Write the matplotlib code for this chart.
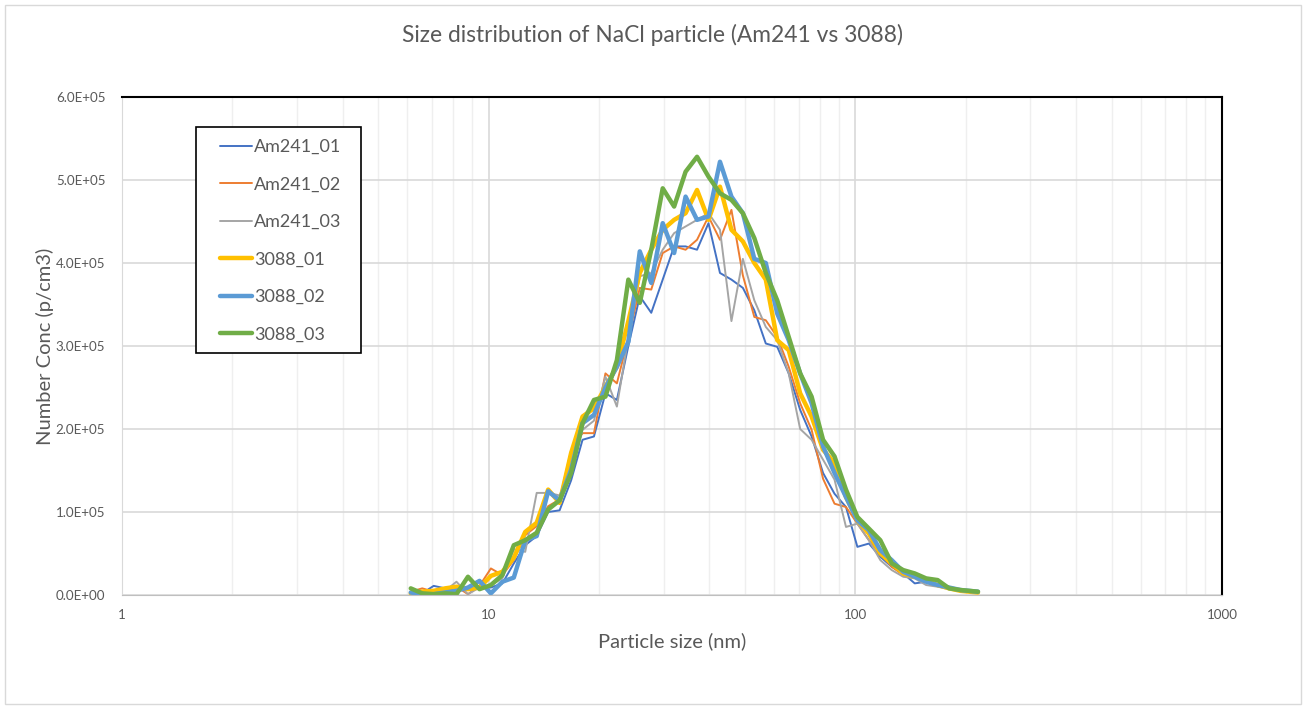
import numpy as np
import matplotlib
matplotlib.use("Agg")
import matplotlib.pyplot as plt
from matplotlib.ticker import FuncFormatter, LogLocator, FixedLocator
from matplotlib.patches import Rectangle

plt.rcParams['font.family'] = ['Lato', 'DejaVu Sans']

# particle diameter (nm)
size_nm = [6.13, 6.59, 7.08, 7.61, 8.17, 8.78, 9.44, 10.14, 10.90, 11.71,
           12.58, 13.52, 14.53, 15.61, 16.78, 18.03, 19.37, 20.82, 22.37, 24.04,
           25.83, 27.76, 29.83, 32.05, 34.44, 37.01, 39.77, 42.74, 45.93, 49.35,
           53.03, 56.99, 61.24, 65.81, 70.72, 75.99, 81.66, 87.75, 94.30, 101.3,
           108.9, 117.0, 125.7, 135.1, 145.2, 156.0, 167.7, 180.2, 193.6, 216.0]

# number concentration in thousands p/cm3
am241_01 = [3, 2, 11, 8, 6, 6, 9, 9, 14, 38,
            60, 71, 100, 102, 138, 187, 191, 243, 235, 300,
            360, 340, 380, 420, 420, 416, 448, 388, 380, 370,
            343, 303, 299, 267, 223, 191, 147, 122, 106, 58,
            62, 46, 34, 26, 14, 16, 12, 8, 6, 4]
am241_02 = [4, 8, 4, 5, 10, 1, 11, 32, 24, 42,
            72, 83, 107, 115, 174, 195, 195, 267, 255, 310,
            370, 368, 412, 420, 416, 428, 456, 428, 464, 385,
            335, 331, 311, 275, 231, 199, 140, 110, 106, 86,
            66, 50, 34, 24, 22, 16, 12, 8, 6, 3]
am241_03 = [3, 4, 3, 5, 16, 1, 9, 12, 20, 55,
            52, 123, 123, 120, 150, 199, 210, 263, 227, 310,
            384, 388, 416, 436, 444, 452, 460, 440, 330, 405,
            355, 323, 307, 267, 200, 187, 163, 139, 82, 86,
            66, 42, 30, 22, 20, 12, 10, 7, 5, 3]
s3088_01 = [2, 4, 5, 8, 10, 7, 9, 23, 28, 45,
            76, 87, 127, 111, 171, 215, 225, 251, 275, 330,
            388, 416, 440, 452, 460, 488, 452, 492, 440, 426,
            400, 380, 307, 295, 243, 215, 175, 159, 118, 90,
            74, 50, 38, 26, 22, 18, 12, 8, 5, 3]
s3088_02 = [3, 1, 1, 3, 5, 9, 17, 2, 16, 21,
            66, 71, 125, 114, 151, 207, 217, 250, 275, 305,
            414, 376, 448, 412, 480, 452, 456, 522, 480, 460,
            405, 400, 339, 307, 267, 231, 179, 147, 118, 90,
            78, 54, 42, 28, 22, 16, 12, 9, 6, 4]
s3088_03 = [8, 2, 1, 2, 1, 22, 7, 12, 24, 60,
            66, 75, 103, 114, 147, 207, 235, 239, 283, 380,
            352, 416, 490, 468, 510, 528, 504, 484, 476, 460,
            430, 388, 355, 311, 267, 239, 187, 167, 127, 94,
            80, 66, 38, 30, 26, 20, 18, 8, 6, 4]

series = [
    ('Am241_01', am241_01, '#4472C4', 1.4),
    ('Am241_02', am241_02, '#ED7D31', 1.4),
    ('Am241_03', am241_03, '#A5A5A5', 1.4),
    ('3088_01', s3088_01, '#FFC000', 3.2),
    ('3088_02', s3088_02, '#5B9BD5', 3.2),
    ('3088_03', s3088_03, '#70AD47', 3.2),
]

W, H = 1306, 709
fig = plt.figure(figsize=(W / 100, H / 100), dpi=100)
ax = fig.add_axes([122 / W, 1 - 595 / H, (1222 - 122) / W, (595 - 97) / H])

x = np.array(size_nm)
for name, vals, col, lw in series:
    ax.plot(x, np.array(vals) * 1000, color=col, lw=lw, label=name,
            solid_joinstyle='round', solid_capstyle='round')

ax.set_xscale('log')
ax.set_xlim(1, 1000)
ax.set_ylim(0, 6e5)
ax.xaxis.set_major_locator(FixedLocator([1, 10, 100, 1000]))
ax.xaxis.set_major_formatter(FuncFormatter(lambda v, p: f'{v:g}'))
ax.xaxis.set_minor_locator(LogLocator(base=10, subs=np.arange(2, 10)))
ax.xaxis.set_minor_formatter(FuncFormatter(lambda v, p: ''))
ax.set_yticks(np.arange(0, 6.01e5, 1e5))
ax.yaxis.set_major_formatter(FuncFormatter(lambda v, p: f'{v:.1E}'))

ax.grid(which='major', color='#d9d9d9', lw=1.2)
ax.grid(which='minor', axis='x', color='#efefef', lw=1.0)
ax.set_axisbelow(True)
ax.tick_params(which='both', length=0, labelsize=9.6, labelcolor='#595959')
ax.tick_params(axis='x', pad=10)
ax.tick_params(axis='y', pad=12)

for s in ['top', 'right']:
    ax.spines[s].set_color('black')
    ax.spines[s].set_linewidth(1.5)
ax.spines['left'].set_color('#d9d9d9')
ax.spines['bottom'].set_color('#bfbfbf')

ax.set_xlabel('Particle size (nm)', fontsize=14.5, color='#595959', labelpad=8)
ax.set_ylabel('Number Conc (p/cm3)', fontsize=14.5, color='#595959', labelpad=1)
fig.text(0.5, 1 - 35 / H, 'Size distribution of NaCl particle (Am241 vs 3088)',
         ha='center', va='center', fontsize=16.4, color='#595959')

# legend box drawn separately, entries placed inside it
box = Rectangle((196 / W, 1 - 353 / H), 165 / W, 226 / H,
                transform=fig.transFigure, facecolor='white',
                edgecolor='black', lw=1.2, zorder=5, clip_on=False)
ax.add_patch(box)
leg = ax.legend(loc='upper left', bbox_to_anchor=(220 / W, 1 - 139 / H),
                bbox_transform=fig.transFigure, fontsize=13, frameon=False,
                labelspacing=1.19, handlelength=1.77, handletextpad=0.1,
                borderpad=0, borderaxespad=0)
leg.set_zorder(6)
for t in leg.get_texts():
    t.set_color('#595959')

fig.patches.append(Rectangle((5 / W, 5 / H), 1 - 10 / W, 1 - 10 / H,
                             transform=fig.transFigure, fill=False,
                             edgecolor='#d9d9d9', lw=1))

fig.savefig('out.png', dpi=100)
